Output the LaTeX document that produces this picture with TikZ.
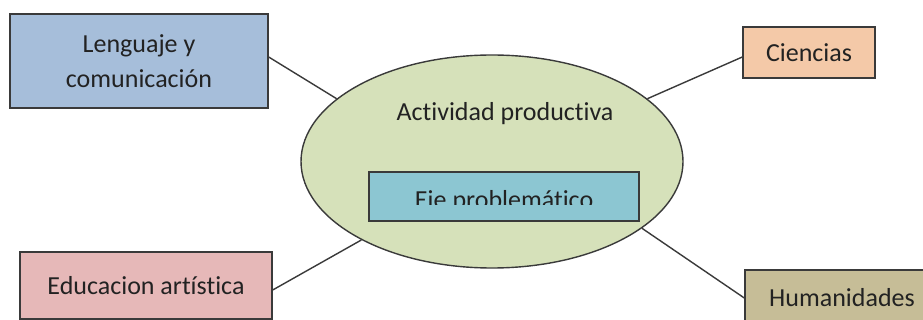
\documentclass[tikz,border=0pt]{standalone}
\usepackage{fontspec}
\setmainfont[Ligatures={NoCommon}]{Carlito}
\usetikzlibrary{shapes.geometric}
\definecolor{cblue}{HTML}{A6BEDA}
\definecolor{cpeach}{HTML}{F4C9A8}
\definecolor{cpink}{HTML}{E6B8B8}
\definecolor{ckhaki}{HTML}{C6BD97}
\definecolor{cgreen}{HTML}{D6E1BA}
\definecolor{caqua}{HTML}{8CC6D2}
\definecolor{edge}{HTML}{3A3A3A}
\definecolor{txt}{HTML}{222222}
\begin{document}
\begin{tikzpicture}[x=1pt,y=-1pt,
  box/.style={draw=edge, line width=1.4pt, inner sep=0pt, text=txt,
    font=\fontsize{26}{35}\selectfont, align=center},
  link/.style={draw=edge, line width=1.4pt},
  lbl/.style={text=txt, font=\fontsize{26}{35}\selectfont, inner sep=0pt}]
\useasboundingbox (0,0) rectangle (923,320);
\fill[white] (0,0) rectangle (923,320);
% ellipse
\node[ellipse, draw=edge, fill=cgreen, line width=1.4pt, minimum width=382pt,
  minimum height=213pt, inner sep=0pt] (ell) at (492,161.5) {};
\node[lbl, anchor=base] (act) at (505,121) {Actividad productiva};
% boxes
\node[box, fill=cblue, minimum width=258pt, minimum height=94pt] (leng) at (139,61) {Lenguaje y\\comunicación};
\node[box, fill=cpeach, minimum width=132pt, minimum height=51pt] (cien) at (809,52.5) {Ciencias};
\node[box, fill=cpink, minimum width=252pt, minimum height=67pt] (edu) at (146,285.5) {Educacion artística};
\node[box, fill=ckhaki, minimum width=194pt, minimum height=56pt] (hum) at (842,298) {Humanidades};
\node[box, fill=caqua, minimum width=270pt, minimum height=49pt] (eje) at (504,196.5) {};
\begin{scope}
  \clip (369,172) rectangle (639,205);
  \node[lbl, anchor=base] (ejet) at (504,209) {Eje problemático};
\end{scope}
% connectors
\draw[link] ([yshift=4pt]leng.east) -- (ell.158.85);
\draw[link] ([yshift=-4.5pt]cien.west) -- (ell.22.8);
\draw[link] ([yshift=-4.5pt]edu.east) -- (ell.211.3);
\draw[link] (hum.west) -- (ell.336.7);
\end{tikzpicture}
\end{document}
